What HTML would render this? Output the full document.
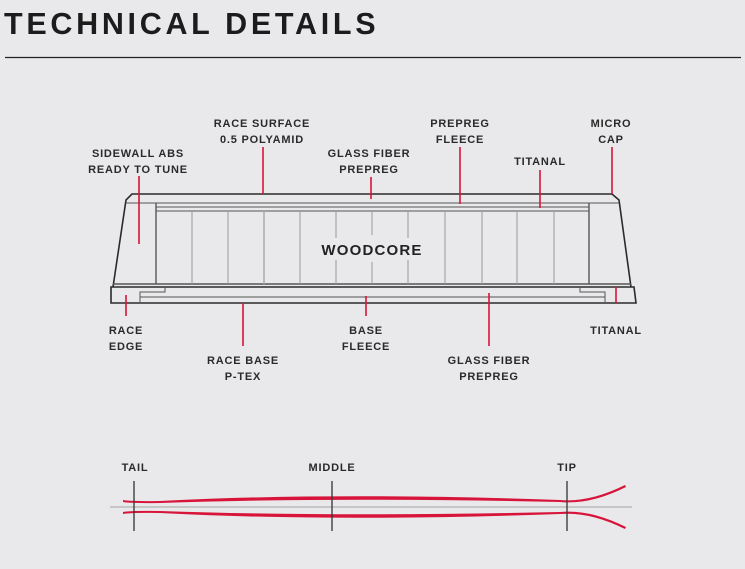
<!DOCTYPE html>
<html><head><meta charset="utf-8"><style>
html,body{margin:0;padding:0;background:#e9e9eb;width:745px;height:569px;overflow:hidden}
</style></head><body>
<svg width="745" height="569" xmlns="http://www.w3.org/2000/svg" style="display:block">
<text x="4" y="34" font-family="Liberation Sans, sans-serif" font-weight="bold" font-size="30.5" letter-spacing="3.7" fill="#1c1c1c">TECHNICAL DETAILS</text>
<line x1="5" y1="57.5" x2="741" y2="57.5" stroke="#222" stroke-width="1.2"/>
<g fill="none" stroke="#2a2a2a" stroke-width="1.6">
<path d="M113 287 L126 200 L132 194 L612 194 L619 200 L631 287"/>
<path d="M111 287 L634 287 L636 303 L111 303 Z"/>
</g>
<g fill="none" stroke="#555" stroke-width="1">
<line x1="126" y1="203" x2="619" y2="203"/>
<line x1="156" y1="207" x2="589" y2="207"/>
<line x1="156" y1="211" x2="589" y2="211"/>
<line x1="113" y1="284" x2="631" y2="284" stroke-width="1.4"/>
<line x1="156" y1="203" x2="156" y2="284" stroke-width="1.4"/>
<line x1="589" y1="203" x2="589" y2="284" stroke-width="1.4"/>
<path d="M165 287 L165 292 L140 292 L140 302"/>
<path d="M580 287 L580 292 L605 292 L605 302"/>
<line x1="140" y1="297" x2="605" y2="297"/>
</g>
<g stroke="#999" stroke-width="1">
<line x1="192" y1="211" x2="192" y2="284"/><line x1="228" y1="211" x2="228" y2="284"/>
<line x1="264" y1="211" x2="264" y2="284" stroke="#aaa" stroke-width="1.5"/><line x1="300" y1="211" x2="300" y2="284"/>
<line x1="336" y1="211" x2="336" y2="284"/><line x1="372" y1="211" x2="372" y2="235"/>
<line x1="408" y1="211" x2="408" y2="284"/><line x1="445" y1="211" x2="445" y2="284"/>
<line x1="482" y1="211" x2="482" y2="284"/><line x1="517" y1="211" x2="517" y2="284"/>
<line x1="554" y1="211" x2="554" y2="284"/><line x1="372" y1="262" x2="372" y2="284"/>
</g>
<rect x="312" y="238" width="120" height="22" fill="#e9e9eb"/>
<text x="372" y="255" text-anchor="middle" font-family="Liberation Sans, sans-serif" font-size="15" font-weight="bold" letter-spacing="1.2" fill="#222">WOODCORE</text>
<g stroke="#d8143a" stroke-width="1.6">
<line x1="139" y1="176" x2="139" y2="244"/><line x1="263" y1="147" x2="263" y2="194"/>
<line x1="371" y1="177" x2="371" y2="199"/><line x1="460" y1="147" x2="460" y2="204"/>
<line x1="540" y1="170" x2="540" y2="208"/><line x1="612" y1="147" x2="612" y2="194"/>
<line x1="126" y1="295" x2="126" y2="316"/><line x1="243" y1="303" x2="243" y2="346"/>
<line x1="366" y1="296" x2="366" y2="316"/><line x1="489" y1="293" x2="489" y2="346"/>
<line x1="616" y1="287" x2="616" y2="303"/>
</g>
<g font-family="Liberation Sans, sans-serif" font-size="11" font-weight="bold" letter-spacing="0.8" fill="#2a2a2a" text-anchor="middle">
<text x="138" y="157">SIDEWALL ABS</text><text x="138" y="173">READY TO TUNE</text>
<text x="262" y="127">RACE SURFACE</text><text x="262" y="143">0.5 POLYAMID</text>
<text x="369" y="157">GLASS FIBER</text><text x="369" y="173">PREPREG</text>
<text x="460" y="127">PREPREG</text><text x="460" y="143">FLEECE</text>
<text x="540" y="165">TITANAL</text>
<text x="611" y="127">MICRO</text><text x="611" y="143">CAP</text>
<text x="126" y="334">RACE</text><text x="126" y="350">EDGE</text>
<text x="243" y="364">RACE BASE</text><text x="243" y="380">P-TEX</text>
<text x="366" y="334">BASE</text><text x="366" y="350">FLEECE</text>
<text x="489" y="364">GLASS FIBER</text><text x="489" y="380">PREPREG</text>
<text x="616" y="334">TITANAL</text>
<text x="135" y="471">TAIL</text><text x="332" y="471">MIDDLE</text><text x="567" y="471">TIP</text>
</g>
<line x1="110" y1="507" x2="632" y2="507" stroke="#bbb" stroke-width="1.5"/>
<g fill="#d8143a">
<path d="M123 500 Q130 501.5 160 501 Q332 492 560 500 Q590 502.5 625 485 L626 487 Q590 505 560 502 Q332 497 160 503 Q130 503.5 123 502 Z"/>
<path d="M123 514 Q130 512.5 160 513 Q332 522 560 514 Q590 511.5 625 529 L626 527 Q590 509 560 512 Q332 517 160 511 Q130 510.5 123 512 Z"/>
</g>
<g stroke="#333" stroke-width="1.3">
<line x1="134" y1="481" x2="134" y2="531"/><line x1="332" y1="481" x2="332" y2="531"/><line x1="567" y1="481" x2="567" y2="531"/>
</g>
</svg>
</body></html>
